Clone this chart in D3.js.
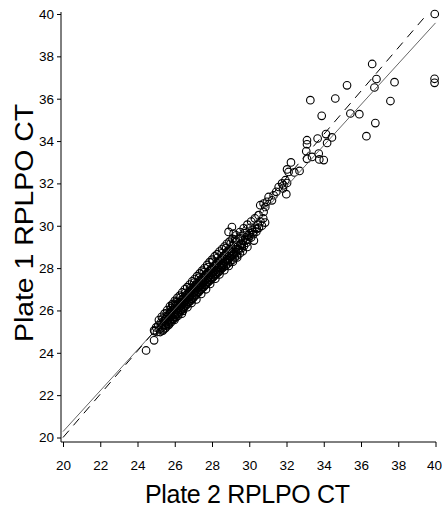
<!DOCTYPE html>
<html>
<head>
<meta charset="utf-8" />
<style>
html, body{
	margin: 0px;
	padding: 0px;
	background: #fff;
}
svg text{
	font-family: "Liberation Sans", Arial, sans-serif;
	fill: #000;
}
</style>
</head>
<body>
<svg id="chart" width="442" height="507"></svg>

<script src="https://d3js.org/d3.v7.min.js"></script>
<script>

// tick labels
var xTicks = [20, 22, 24, 26, 28, 30, 32, 34, 36, 38, 40];
var yTicks = [20, 22, 24, 26, 28, 30, 32, 34, 36, 38, 40];

// [plate 2 CT, plate 1 CT] - dense band, core
var bandPoints = [
	[24.92,25.02],[25.0,25.2],[25.05,24.98],[25.12,25.3],[25.18,25.1],[25.25,25.42],[25.3,25.2],[25.36,25.05],
	[25.4,25.5],[25.45,25.32],[25.5,25.6],[25.52,25.28],
	[25.55,25.45],[25.58,25.75],[25.62,25.55],[25.65,25.38],[25.68,25.82],[25.7,25.62],[25.73,25.5],[25.76,25.9],
	[25.8,25.7],[25.83,25.55],[25.85,26.0],[25.88,25.78],[25.9,25.62],[25.93,26.08],[25.96,25.85],[26.0,25.7],
	[26.02,26.2],[26.05,25.95],[26.08,25.8],[26.1,26.28],[26.13,26.05],[26.16,25.88],[26.2,26.35],[26.22,26.12],
	[26.25,25.95],[26.28,26.4],[26.3,26.2],[26.33,26.02],[26.36,26.5],[26.4,26.28],[26.42,26.1],[26.45,26.55],
	[26.48,26.35],[26.5,26.18],
	[26.53,26.62],[26.55,26.42],[26.58,26.25],[26.6,26.72],[26.63,26.5],[26.66,26.32],[26.7,26.8],[26.72,26.6],
	[26.75,26.4],[26.78,26.88],[26.8,26.68],[26.83,26.48],[26.86,26.95],[26.9,26.75],[26.92,26.55],[26.95,27.05],
	[26.98,26.82],[27.0,26.62],[27.03,27.12],[27.06,26.9],[27.1,26.72],[27.12,27.2],[27.15,27.0],[27.18,26.8],
	[27.2,27.3],[27.23,27.08],[27.26,26.88],[27.3,27.38],[27.33,27.15],[27.36,26.95],[27.4,27.45],[27.43,27.22],
	[27.46,27.05],[27.5,27.55],
	[27.52,27.32],[27.55,27.12],[27.58,27.62],[27.6,27.4],[27.63,27.2],[27.66,27.7],[27.7,27.48],[27.72,27.28],
	[27.75,27.78],[27.78,27.55],[27.8,27.35],[27.83,27.85],[27.86,27.62],[27.9,27.42],[27.92,27.92],[27.95,27.7],
	[27.98,27.5],[28.0,28.0],[28.03,27.78],[28.06,27.58],[28.1,28.08],[28.12,27.85],[28.15,27.65],[28.18,28.15],
	[28.2,27.92],[28.23,27.72],[28.26,28.22],[28.3,28.0],[28.33,27.8],[28.36,28.3],[28.4,28.08],[28.43,27.88],
	[28.46,28.38],[28.5,28.15],
	[28.53,27.98],[28.56,28.45],[28.6,28.22],[28.63,28.05],[28.66,28.55],[28.7,28.3],[28.74,28.12],[28.78,28.62],
	[28.82,28.4],[28.86,28.22],[28.9,28.72],[28.94,28.48],[28.98,28.3],[29.02,28.8],[29.06,28.58],[29.1,28.4],
	[29.14,28.9],[29.18,28.66],[29.22,28.5],[29.26,28.98],[29.3,28.75],[29.35,28.6],[29.4,29.08],[29.45,28.85],
	[29.5,28.7],[29.55,29.15],[29.6,28.95],[29.66,29.3],[29.72,29.05],[29.78,29.45],[29.85,29.2],[29.9,29.55],
	[29.95,29.35],[30.02,29.65],[30.1,29.45],[30.15,29.8],[30.22,29.6],[30.3,29.9],[30.38,29.72],[30.45,30.05],
	[30.52,29.9],[30.6,30.2],[30.68,30.0],[30.75,30.35],[30.85,30.15],
	[28.89,29.71],[29.07,29.94],[29.16,29.63],[29.16,28.6],[29.88,29.55],[26.38,25.85],[25.91,26.24]
];

// dense band, outer edges
var bandEdgePoints = [
	[25.15,25.55],[25.22,24.98],[25.3,25.7],[25.38,25.1],[25.45,25.85],[25.52,25.2],[25.6,26.02],[25.66,25.3],
	[25.74,26.2],[25.8,25.45],[25.87,26.3],[25.94,25.6],[26.0,26.45],[26.07,25.68],[26.14,26.6],[26.2,25.85],
	[26.27,26.7],[26.34,26.0],[26.4,26.85],[26.47,26.1],[26.54,27.0],[26.6,26.22],[26.67,27.1],[26.74,26.38],
	[26.8,27.22],[26.87,26.46],[26.94,27.38],[27.0,26.6],[27.07,27.48],[27.14,26.72],[27.2,27.62],[27.27,26.85],
	[27.34,27.75],[27.4,27.0],[27.47,27.88],[27.54,27.1],[27.6,28.0],[27.67,27.22],[27.74,28.15],[27.8,27.38],
	[27.87,28.28],[27.94,27.55],[28.0,28.4],[28.07,27.6],[28.14,28.55],[28.2,27.75],[28.27,28.65],[28.34,27.9],
	[28.4,28.78],[28.47,28.0],[28.54,28.9],[28.6,28.12],[28.67,29.02],[28.74,28.32],[28.8,29.15],[28.87,28.38],
	[28.94,29.25],[29.0,28.55],[29.1,29.38],[29.2,28.72],[29.3,29.55],[29.4,28.9],[29.5,29.7],[29.6,29.1],
	[29.7,29.88],[29.8,29.3],[29.9,30.05],[30.0,29.5],[30.1,30.2],[30.2,29.7],[30.3,30.35],[30.4,29.85],[30.5,30.5]
];

// dense band, middle fill
var bandMidPoints = [
	[25.25,25.3],[25.45,25.48],[25.62,25.7],[25.78,25.85],[25.95,26.0],[26.12,26.2],[26.28,26.3],[26.45,26.42],
	[26.62,26.6],[26.78,26.8],[26.95,26.95],[27.12,27.1],[27.28,27.25],[27.45,27.4],[27.62,27.6],[27.78,27.75],
	[27.95,27.92],[28.12,28.1],[28.28,28.25],[28.45,28.4],[28.62,28.58],[28.78,28.75],[28.95,28.9],[29.12,29.1],
	[29.3,29.25],[29.48,29.4],
	[25.35,25.62],[25.48,25.15],[25.57,25.88],[25.7,25.35],[25.82,26.12],[25.98,25.55],[26.06,26.38],[26.18,25.75],
	[26.32,26.62],[26.44,25.98],[26.56,26.82],[26.68,26.15],[26.82,27.05],[26.9,26.35],[27.05,27.32],[27.16,26.52],
	[27.3,27.55],[27.42,26.78],[27.56,27.8],[27.68,27.0],[27.8,28.05],[27.9,27.25],[28.04,28.3],[28.18,27.5],
	[28.3,28.5],[28.4,27.7],[28.52,28.7],[28.66,27.9],[28.76,28.95],[28.9,28.1],[29.0,29.15],[29.12,28.3],
	[29.25,29.35],[29.35,28.5],[29.55,29.5],[29.65,28.8],[29.75,29.65],[29.9,29.0],[30.05,29.9],[30.25,29.3]
];

// sparse upper points and outliers
var upperPoints = [
	[24.46,24.11],[24.89,24.59],[24.89,25.06],
	[30.59,30.97],[30.86,30.89],[30.77,30.65],[31.04,31.36],[31.22,31.2],[30.95,31.13],[30.77,31.05],
	[31.58,31.83],[31.45,31.6],[31.31,31.44],
	[31.94,32.15],[32.03,32.02],[31.84,31.91],[31.81,31.76],[31.99,31.49],[31.76,32.0],
	[32.24,32.99],[32.03,32.66],[32.11,32.54],[32.42,32.52],[32.7,32.59],
	[33.06,33.52],[33.1,33.16],[33.37,33.25],[33.73,33.41],[33.76,33.13],[34.0,33.1],
	[33.1,34.04],[33.1,33.85],[33.67,34.12],[34.18,33.91],[34.44,34.17],[34.12,34.33],
	[36.29,34.23],[36.77,34.85],[35.91,35.27],[35.43,35.3],[33.89,35.19],
	[37.58,35.89],[34.62,36.01],[33.28,35.93],
	[35.25,36.63],[36.72,36.53],[36.83,36.93],[37.8,36.78],[39.95,36.94],[39.95,36.75],
	[36.6,37.64],[39.96,40.0]
];

// lines: intercept, slope, x range
var solidLine = { b: 0.98, m: 0.965, x0: 20, x1: 40 };
var dashLine = { b: -0.45, m: 1.0225, x0: 20, x1: 39.4 };

var svg = d3.select("#chart");

var x = d3.scaleLinear().domain([20, 40]).range([63, 435.5]);
var y = d3.scaleLinear().domain([20, 40]).range([437.5, 14]);

var xAxisY = 442;
var yAxisX = 61;

// x axis
var gx = svg.append("g").attr("transform", "translate(0," + xAxisY + ")");
gx.call(d3.axisBottom(x).tickValues(d3.range(20, 40.01, 0.4)).tickSize(3).tickSizeOuter(0).tickFormat(""));
gx.call(d3.axisBottom(x).tickValues(xTicks).tickSize(5).tickSizeOuter(0).tickPadding(13).tickFormat(d3.format("d")));
gx.selectAll(".domain").remove();
gx.selectAll("text").style("font-size", "13.5px");
gx.selectAll("text").filter(function(d){ return d === 40; }).attr("dx", "-1.5");
gx.append("line").attr("x1", yAxisX).attr("x2", 436).attr("stroke", "#000");

// y axis
var gy = svg.append("g").attr("transform", "translate(" + yAxisX + ",0)");
gy.call(d3.axisLeft(y).tickValues(d3.range(20, 40.01, 0.4)).tickSize(2).tickSizeOuter(0).tickFormat(""));
gy.call(d3.axisLeft(y).tickValues(yTicks).tickSize(4).tickSizeOuter(0).tickPadding(3).tickFormat(d3.format("d")));
gy.selectAll(".domain").remove();
gy.selectAll("text").style("font-size", "13.5px");
gy.append("line").attr("y1", 12).attr("y2", xAxisY).attr("stroke", "#000");

svg.selectAll(".tick line").attr("stroke", "#000");

// points
svg.append("g").selectAll("circle")
	.data(bandPoints.concat(bandEdgePoints, bandMidPoints, upperPoints))
	.enter()
	.append("circle")
		.attr("cx", function(d){ return x(d[0]); })
		.attr("cy", function(d){ return y(d[1]); })
		.attr("r", 3.8)
		.attr("fill", "none")
		.attr("stroke", "#000")
		.attr("stroke-width", 1.1);

// reference lines
svg.append("line")
	.attr("x1", x(solidLine.x0)).attr("y1", y(solidLine.b + solidLine.m * solidLine.x0))
	.attr("x2", x(solidLine.x1)).attr("y2", y(solidLine.b + solidLine.m * solidLine.x1))
	.attr("stroke", "#666").attr("stroke-width", 1);

svg.append("line")
	.attr("x1", x(dashLine.x0)).attr("y1", y(dashLine.b + dashLine.m * dashLine.x0))
	.attr("x2", x(dashLine.x1)).attr("y2", y(dashLine.b + dashLine.m * dashLine.x1))
	.attr("stroke", "#000").attr("stroke-width", 1).attr("stroke-dasharray", "9,7");

// titles
svg.append("text")
	.attr("x", 247.5).attr("y", 503)
	.attr("text-anchor", "middle")
	.attr("textLength", 205)
	.style("font-size", "25px")
	.text("Plate 2 RPLPO CT");

svg.append("text")
	.attr("transform", "translate(33,223) rotate(-90)")
	.attr("text-anchor", "middle")
	.attr("textLength", 238)
	.attr("lengthAdjust", "spacingAndGlyphs")
	.style("font-size", "26px")
	.text("Plate 1 RPLPO CT");

</script>
</body>
</html>
